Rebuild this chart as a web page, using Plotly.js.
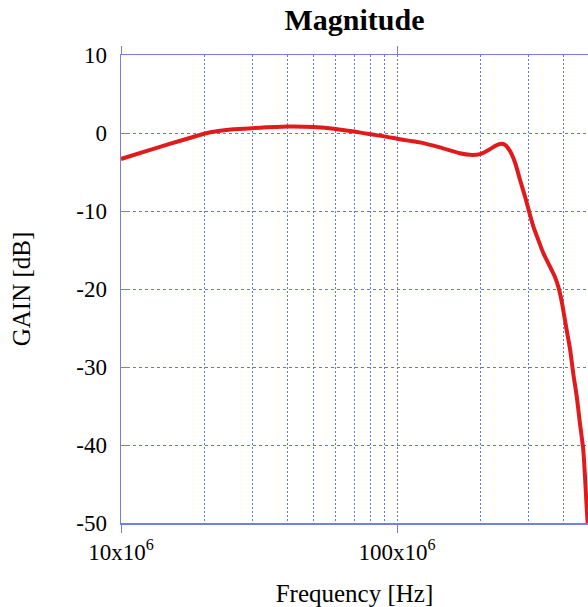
<!DOCTYPE html>
<html>
<head>
<meta charset="utf-8">
<script src="https://cdn.plot.ly/plotly-3.0.1.min.js"></script>
<style>
html,body{margin:0;padding:0;background:#fff;overflow:hidden;}
#chart{width:588px;height:607px;}
</style>
</head>
<body>
<div id="chart"></div>
<script>
// Frequency [Hz]
var freq = [1.0e7, 1.25e7, 1.5e7, 1.75e7, 2.0e7, 2.25e7, 2.5e7, 3.0e7, 4.0e7, 5.0e7, 6.0e7, 7.0e7, 8.0e7, 9.0e7,
            1.0e8, 1.1e8, 1.21e8, 1.43e8, 1.69e8, 1.84e8, 2.0e8, 2.17e8, 2.27e8, 2.36e8, 2.46e8,
            2.57e8, 2.68e8, 2.79e8, 2.91e8, 3.01e8, 3.12e8, 3.25e8, 3.39e8, 3.58e8, 3.73e8,
            3.84e8, 3.92e8, 3.98e8, 4.12e8, 4.24e8, 4.35e8, 4.48e8, 4.60e8, 4.73e8, 4.80e8,
            4.89e8, 5.0e8];
// GAIN [dB]
var gain = [-3.33, -2.25, -1.4, -0.7, -0.1, 0.25, 0.45, 0.62, 0.82, 0.76, 0.52, 0.18, -0.16, -0.43,
            -0.73, -0.98, -1.2, -1.84, -2.6, -2.8, -2.7, -2.07, -1.65, -1.4, -1.5,
            -2.35, -3.85, -6.0, -8.15, -10.05, -12.0, -13.7, -15.4, -17.1, -18.4,
            -19.7, -21.0, -22.2, -25.3, -27.8, -30.8, -33.8, -37.2, -40.6, -44.1,
            -49.2, -53];

var xTickVals = [1e7, 1e8];
var xTickText = ['10x10<sup>6</sup>', '100x10<sup>6</sup>'];
var xMinorVals = [2e7, 3e7, 4e7, 5e7, 6e7, 7e7, 8e7, 9e7, 2e8, 3e8, 4e8];
var yTickVals = [10, 0, -10, -20, -30, -40, -50];
var yTickText = ['10', '0', '-10', '-20', '-30', '-40', '-50'];

var FONT = 'Liberation Serif, Times New Roman, serif';
var AXIS = '#7480e0';
var GRID = 'rgba(85,100,235,0.9)';

var trace = {
  x: freq, y: gain, type: 'scatter', mode: 'lines',
  line: {color: '#e11b1b', width: 4, shape: 'spline', smoothing: 0.7},
  hoverinfo: 'skip'
};

var layout = {
  width: 588, height: 607,
  margin: {l: 121, r: 0, t: 55, b: 84},
  paper_bgcolor: '#fff', plot_bgcolor: '#fff',
  showlegend: false,
  font: {family: FONT, color: '#000'},
  title: {
    text: '<b>Magnitude</b>',
    font: {family: FONT, size: 30, color: '#000'},
    x: 0.5, xref: 'paper', xanchor: 'center',
    y: 1 - 9/607, yref: 'container', yanchor: 'top'
  },
  xaxis: {
    type: 'log',
    range: [7, 7 + 467/276],
    tickmode: 'array', tickvals: xTickVals, ticktext: xTickText,
    ticks: 'outside', ticklen: 8, tickwidth: 1, tickcolor: AXIS,
    showline: true, linecolor: AXIS, linewidth: 1.5, mirror: 'ticks',
    showgrid: true, gridcolor: GRID, gridwidth: 1, griddash: '2px,2px',
    zeroline: false,
    minor: {tickmode: 'array', tickvals: xMinorVals, ticks: '', showgrid: true,
            gridcolor: GRID, gridwidth: 1, griddash: '2px,2px'},
    tickfont: {family: FONT, size: 23, color: '#000'},
    title: {text: 'Frequency [Hz]', font: {family: FONT, size: 25, color: '#000'}, standoff: 20}
  },
  yaxis: {
    range: [-50, 10],
    tickmode: 'array', tickvals: yTickVals, ticktext: yTickText,
    ticks: 'inside', ticklen: 8, tickwidth: 1, tickcolor: AXIS,
    showline: true, linecolor: AXIS, linewidth: 1.5, mirror: false,
    showgrid: true, gridcolor: GRID, gridwidth: 1, griddash: '3px,3px',
    zeroline: false,
    ticklabelstandoff: 8,
    tickfont: {family: FONT, size: 23, color: '#000'},
    title: {text: 'GAIN [dB]', font: {family: FONT, size: 25, color: '#000'}, standoff: 38}
  }
};

Plotly.newPlot('chart', [trace], layout, {staticPlot: true, displayModeBar: false});
</script>
</body>
</html>
